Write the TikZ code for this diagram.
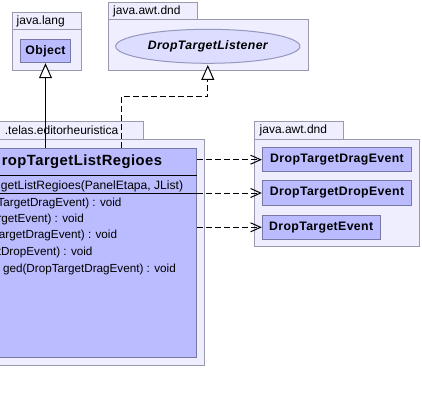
\documentclass[tikz,border=0pt]{standalone}
\usepackage{fontspec}
\setmainfont{Liberation Sans}
\newfontfamily\clsfont[LetterSpace=3.0]{Liberation Sans}
\usetikzlibrary{arrows.meta,shapes.geometric}
\definecolor{pkgfill}{RGB}{238,238,255}
\definecolor{pkgline}{RGB}{153,153,176}
\definecolor{clsfill}{RGB}{187,187,255}
\definecolor{clsline}{RGB}{120,120,165}
\definecolor{ellfill}{RGB}{221,221,255}
\definecolor{ellline}{RGB}{150,150,190}
\tikzset{
  pkg/.style={draw=pkgline, fill=pkgfill, line width=1pt},
  pkglabel/.style={inner sep=0pt, font=\fontsize{12}{14}\selectfont},
  clsbox/.style={draw=clsline, fill=clsfill, line width=1pt, inner sep=0pt,
    font=\clsfont\bfseries\fontsize{12.3}{14}\selectfont},
  ifbox/.style={ellipse, draw=ellline, fill=ellfill, line width=1pt, inner sep=0pt,
    font=\clsfont\bfseries\itshape\fontsize{12.3}{14}\selectfont},
  member/.style={inner sep=0pt, anchor=east, font=\fontsize{11.7}{14}\selectfont},
  inherit/.style={line width=1pt, -{Triangle[length=15pt,width=13pt,fill=white,line width=1pt]}},
  realize/.style={line width=1pt, dash pattern=on 6pt off 3pt,
    -{Triangle[length=15pt,width=13pt,fill=white,line width=1pt,sep]}},
  dep/.style={line width=1pt, dash pattern=on 6pt off 3pt,
    -{Straight Barb[length=10pt,width=9pt,line width=1pt]}}
}
\begin{document}
\begin{tikzpicture}[x=1pt,y=-1pt]
\useasboundingbox (0,0) rectangle (422,403);
\clip (0,0) rectangle (422,403);
\fill[white] (0,0) rectangle (422,403);

% package java.lang
\draw[pkg] (12.7,12.7) rectangle (81,30);
\draw[pkg] (12.7,30) rectangle (81,71);
\node[pkglabel, anchor=west] (lblLang) at (16.5,21.5) {java.lang};
\node[clsbox, minimum width=49.6pt, minimum height=23.4pt] (obj) at (45.5,51) {Object};

% package java.awt.dnd (top)
\draw[pkg] (108.3,2.7) rectangle (197.7,20);
\draw[pkg] (108.3,20) rectangle (308.3,71);
\node[pkglabel, anchor=west] (lblDnd1) at (113,11.5) {java.awt.dnd};
\node[ifbox, minimum width=184.3pt, minimum height=34pt] (lst) at (207.8,46.3) {DropTargetListener};

% package ...telas.editorheuristica
\draw[pkg] (-50,121.7) rectangle (143.3,139.3);
\draw[pkg] (-50,139.3) rectangle (204,365);
\node[pkglabel, anchor=east] (lblTelas) at (118.5,130.5) {.telas.editorheuristica};
\node[clsbox, minimum width=246.7pt, minimum height=209pt] (cls) at (73.35,252.8) {};
\draw[black, line width=1pt] (cls.west |- 0,175.7) -- (cls.east |- 0,175.7);
\draw[black, line width=1pt] (cls.west |- 0,193.3) -- (cls.east |- 0,193.3);
\node[member, font=\clsfont\bfseries\fontsize{14.8}{18}\selectfont] (ttl) at (162.3,161.7) {ropTargetListRegioes};
\node[member, font=\fontsize{12.1}{14}\selectfont] (m0) at (183.3,186.5) {getListRegioes(PanelEtapa, JList)};
\node[member] (m1) at (121.7,203.3) {TargetDragEvent) : void};
\node[member] (m2) at (84,219.3) {rgetEvent) : void};
\node[member] (m3) at (117.3,235.7) {argetDragEvent) : void};
\node[member] (m4) at (92.7,252.7) {tDropEvent) : void};
\node[member] (m5) at (176,269.3) {ged(DropTargetDragEvent) : void};

% package java.awt.dnd (right)
\draw[pkg] (254.3,121.7) rectangle (343.3,139.3);
\draw[pkg] (254.3,139.3) rectangle (419.3,246.7);
\node[pkglabel, anchor=west] (lblDnd2) at (259.5,130.7) {java.awt.dnd};
\node[clsbox, minimum width=149.4pt, minimum height=23.4pt] (e1) at (337,159.7) {DropTargetDragEvent};
\node[clsbox, minimum width=149.4pt, minimum height=24pt] (e2) at (337,193) {DropTargetDropEvent};
\node[clsbox, minimum width=117.7pt, minimum height=23.4pt] (e3) at (321.15,227.3) {DropTargetEvent};

% connectors
\coordinate (gen) at (45.5,100);
\draw[inherit] (gen |- cls.north) -- (obj.south);
\coordinate (bend) at (121,96.7);
\draw[realize] (bend |- cls.north) -- (bend) -| (lst.south);
\draw[dep] (cls.east |- e1.west) -- (e1.west);
\draw[dep] (cls.east |- e2.west) -- (e2.west);
\draw[dep] (cls.east |- e3.west) -- (e3.west);
\end{tikzpicture}
\end{document}
